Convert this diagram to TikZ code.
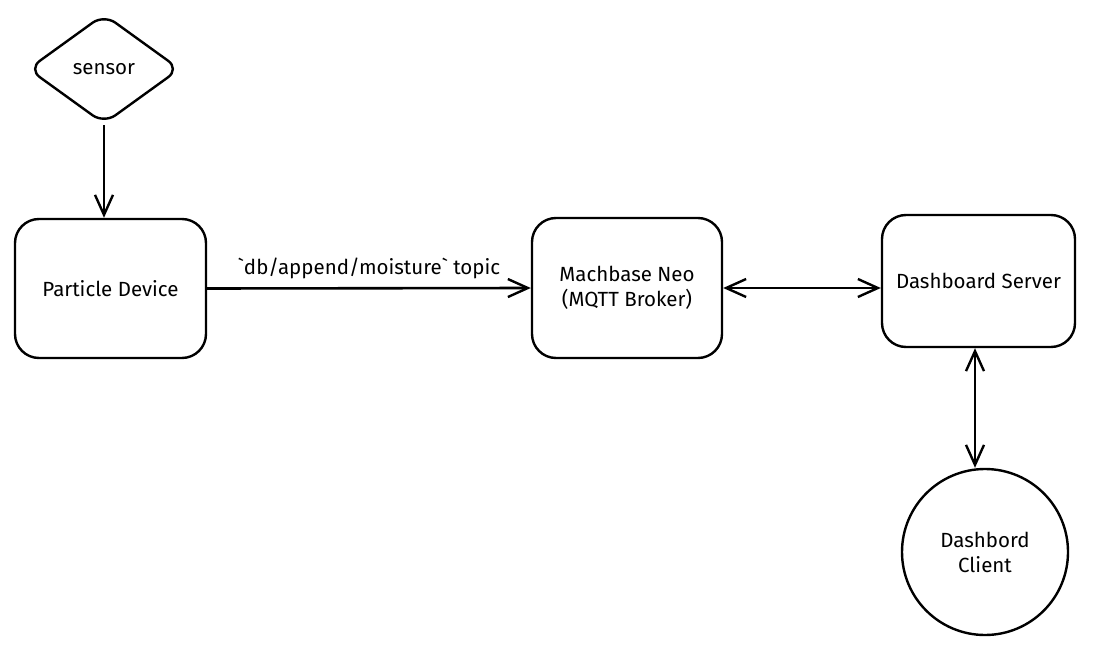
\documentclass[tikz,border=0pt]{standalone}
\usepackage{fontspec}
\setmainfont{Fira Sans}
\usetikzlibrary{arrows.meta,shapes.geometric}
\begin{document}
\begin{tikzpicture}[x=1pt,y=-1pt,
  every node/.style={font=\fontsize{20.5}{25}\selectfont},
  box/.style={draw,line width=2.4pt,rounded corners=24pt,align=center,inner sep=0pt},
  conn/.style={line width=2.6pt,-{Straight Barb[length=20pt,width=18pt,line width=2.4pt]}},
  conn2/.style={line width=2.6pt,{Straight Barb[length=20pt,width=18pt,line width=2.4pt]}-{Straight Barb[length=20pt,width=18pt,line width=2.4pt]}}]
\useasboundingbox (0,0) rectangle (1108,658);
\node[draw,line width=2.4pt,diamond,rounded corners=14pt,minimum width=152pt,minimum height=110pt,inner sep=0pt] (sensor) at (104,69) {sensor};
\node[box,minimum width=191pt,minimum height=139pt] (particle) at (110.5,288.5) {Particle Device};
\node[box,minimum width=190pt,minimum height=140pt] (neo) at (627,288) {Machbase Neo\\(MQTT Broker)};
\node[box,minimum width=193pt,minimum height=132pt] (server) at (978.5,281) {Dashboard Server};
\node[draw,line width=2.4pt,circle,minimum size=166pt,inner sep=0pt,align=center] (client) at (985,552) {Dashbord\\Client};
\draw[conn] (sensor.south) -- (sensor.south |- particle.north);
\draw[conn] (particle.east) -- node[above=5pt] {\textasciigrave db/append/moisture\textasciigrave{} topic} (neo.west);
\draw[conn2] (neo.east) -- (server.west |- neo.east);
\draw[conn2] (server.south -| 975,0) -- (client.north -| 975,0);
\end{tikzpicture}
\end{document}
